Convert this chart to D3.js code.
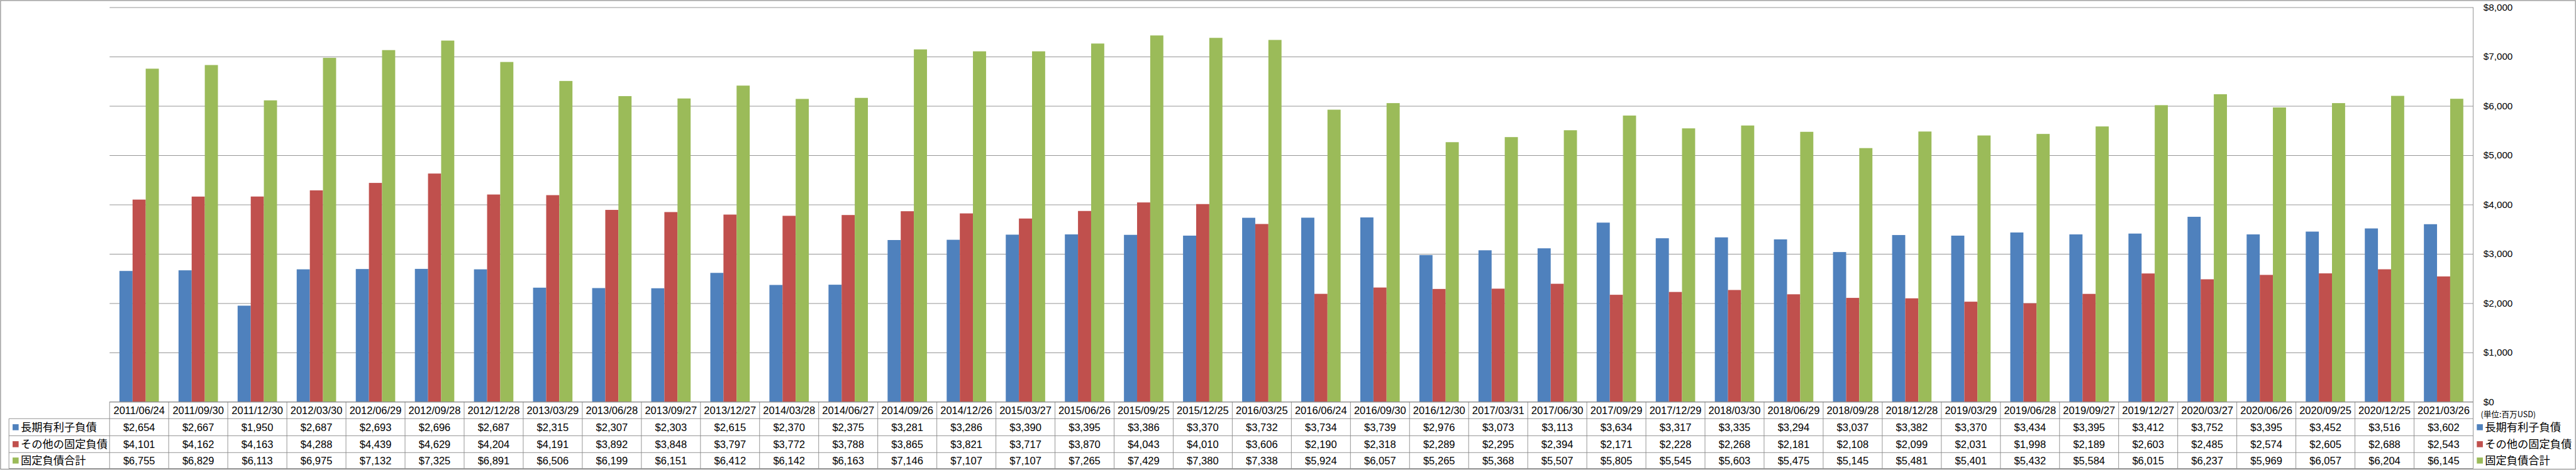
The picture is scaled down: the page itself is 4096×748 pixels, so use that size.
<!DOCTYPE html>
<html>
<head>
<meta charset="utf-8">
<script src="https://cdn.jsdelivr.net/npm/d3@7"></script>
<style>
  html, body { margin: 0; padding: 0; background: #fff; overflow: hidden; }
  svg { display: block; }
  text { font-family: "Liberation Sans", Arial, sans-serif; fill: #000; }
  .cjk { font-family: "Noto Sans CJK JP", "Noto Sans", sans-serif; }
</style>
</head>
<body>
<script>
const categories = ["2011/06/24","2011/09/30","2011/12/30","2012/03/30","2012/06/29","2012/09/28","2012/12/28","2013/03/29","2013/06/28","2013/09/27","2013/12/27","2014/03/28","2014/06/27","2014/09/26","2014/12/26","2015/03/27","2015/06/26","2015/09/25","2015/12/25","2016/03/25","2016/06/24","2016/09/30","2016/12/30","2017/03/31","2017/06/30","2017/09/29","2017/12/29","2018/03/30","2018/06/29","2018/09/28","2018/12/28","2019/03/29","2019/06/28","2019/09/27","2019/12/27","2020/03/27","2020/06/26","2020/09/25","2020/12/25","2021/03/26"];
const longTermDebt = [2654,2667,1950,2687,2693,2696,2687,2315,2307,2303,2615,2370,2375,3281,3286,3390,3395,3386,3370,3732,3734,3739,2976,3073,3113,3634,3317,3335,3294,3037,3382,3370,3434,3395,3412,3752,3395,3452,3516,3602];
const otherFixed = [4101,4162,4163,4288,4439,4629,4204,4191,3892,3848,3797,3772,3788,3865,3821,3717,3870,4043,4010,3606,2190,2318,2289,2295,2394,2171,2228,2268,2181,2108,2099,2031,1998,2189,2603,2485,2574,2605,2688,2543];
const totalFixed = [6755,6829,6113,6975,7132,7325,6891,6506,6199,6151,6412,6142,6163,7146,7107,7107,7265,7429,7380,7338,5924,6057,5265,5368,5507,5805,5545,5603,5475,5145,5481,5401,5432,5584,6015,6237,5969,6057,6204,6145];
const seriesNames = ["長期有利子負債","その他の固定負債","固定負債合計"];
const seriesColors = ["#4F81BD","#C0504D","#9BBB59"];
const yTicks = [0,1000,2000,3000,4000,5000,6000,7000,8000];
const unitLabel = "(単位:百万USD)";

const seriesValues = [longTermDebt, otherFixed, totalFixed];

const W = 4701, H = 858;
const grid = "#868686";
const plotL = 200, plotR = 4513.3, plotT = 13.3, plotB = 734;
const rowEdges = [734, 764.7, 796, 826.7, 855.7];
const legendColL = 16.3;

const svg = d3.select("body").append("svg")
  .attr("width", 4096).attr("height", 748)
  .attr("viewBox", `0 0 ${W} ${H}`)
  .attr("preserveAspectRatio", "xMinYMin meet");

// outer frame
svg.append("rect").attr("x", 1).attr("y", 1).attr("width", W - 2).attr("height", H - 2)
  .attr("fill", "#fff").attr("stroke", grid).attr("stroke-width", 1.3);

const x0 = d3.scaleBand().domain(categories).range([plotL, plotR])
  .paddingInner(1/3).paddingOuter(1/6);
const x1 = d3.scaleBand().domain(d3.range(3)).range([0, x0.bandwidth()]);
const y = d3.scaleLinear().domain([0, 8000]).range([plotB, plotT]);

// gridlines
const gridAxis = d3.axisRight(y).tickValues(yTicks).tickSize(-(plotR - plotL)).tickFormat("");
const gg = svg.append("g").attr("transform", `translate(${plotR},0)`).call(gridAxis);
gg.select(".domain").remove();
gg.selectAll(".tick line").attr("stroke", grid).attr("stroke-width", 1);

// bars
const groups = svg.append("g").selectAll("g").data(categories).join("g")
  .attr("transform", d => `translate(${x0(d)},0)`);
groups.selectAll("rect").data((d, i) => seriesValues.map((s, k) => ({k, v: s[i]})))
  .join("rect")
  .attr("x", d => x1(d.k)).attr("width", x1.bandwidth())
  .attr("y", d => y(d.v)).attr("height", d => y(0) - y(d.v))
  .attr("fill", d => seriesColors[d.k]);

// right axis with labels
const yAxis = d3.axisRight(y).tickValues(yTicks).tickSize(0).tickPadding(18.7)
  .tickFormat(d => "$" + d3.format(",")(d));
const ya = svg.append("g").attr("transform", `translate(${plotR},0)`).call(yAxis);
ya.select(".domain").remove();
ya.selectAll("text").attr("font-size", 17.5).attr("font-family", "Liberation Sans, Arial, sans-serif").attr("fill", "#000");

// table lines
const tbl = svg.append("g").attr("stroke", grid).attr("stroke-width", 1);
// right axis line / table right edge
tbl.append("line").attr("x1", plotR).attr("x2", plotR).attr("y1", plotT).attr("y2", rowEdges[4]);
// horizontal lines
tbl.append("line").attr("x1", plotL).attr("x2", plotR).attr("y1", rowEdges[0]).attr("y2", rowEdges[0]);
for (let r = 1; r < rowEdges.length; r++) {
  tbl.append("line").attr("x1", legendColL).attr("x2", plotR).attr("y1", rowEdges[r]).attr("y2", rowEdges[r]);
}
// vertical lines
tbl.append("line").attr("x1", legendColL).attr("x2", legendColL).attr("y1", rowEdges[1]).attr("y2", rowEdges[4]);
const step = x0.step();
categories.forEach((c, i) => {
  const xl = x0(c) - (step - x0.bandwidth()) / 2;
  tbl.append("line").attr("x1", xl).attr("x2", xl).attr("y1", rowEdges[0]).attr("y2", rowEdges[4]);
});

const cx = c => x0(c) + x0.bandwidth() / 2;
const rowMid = r => (rowEdges[r] + rowEdges[r + 1]) / 2;

// header dates
svg.append("g").selectAll("text").data(categories).join("text")
  .attr("x", d => cx(d)).attr("y", rowMid(0)).attr("dy", "0.36em")
  .attr("text-anchor", "middle").attr("font-size", 19).text(d => d);

// value rows
seriesValues.forEach((s, k) => {
  svg.append("g").selectAll("text").data(s).join("text")
    .attr("x", (d, i) => cx(categories[i])).attr("y", rowMid(k + 1)).attr("dy", "0.36em")
    .attr("text-anchor", "middle").attr("font-size", 19)
    .text(d => "$" + d3.format(",")(d));
  // row legend key + name
  svg.append("rect").attr("x", 23).attr("y", rowMid(k + 1) - 5.5).attr("width", 11).attr("height", 11)
    .attr("fill", seriesColors[k]);
  svg.append("text").attr("class", "cjk").attr("x", 38).attr("y", rowMid(k + 1)).attr("dy", "0.36em")
    .attr("font-size", 19.8).text(seriesNames[k]);
});

// right legend
svg.append("text").attr("class", "cjk").attr("x", 4527).attr("y", 757).attr("dy", "0.36em")
  .attr("font-size", 14.5).text(unitLabel);
seriesNames.forEach((n, k) => {
  const yy = rowMid(k + 1);
  svg.append("rect").attr("x", 4520).attr("y", yy - 5.5).attr("width", 11).attr("height", 11)
    .attr("fill", seriesColors[k]);
  svg.append("text").attr("class", "cjk").attr("x", 4535).attr("y", yy).attr("dy", "0.36em")
    .attr("font-size", 19.8).text(n);
});
</script>
</body>
</html>
